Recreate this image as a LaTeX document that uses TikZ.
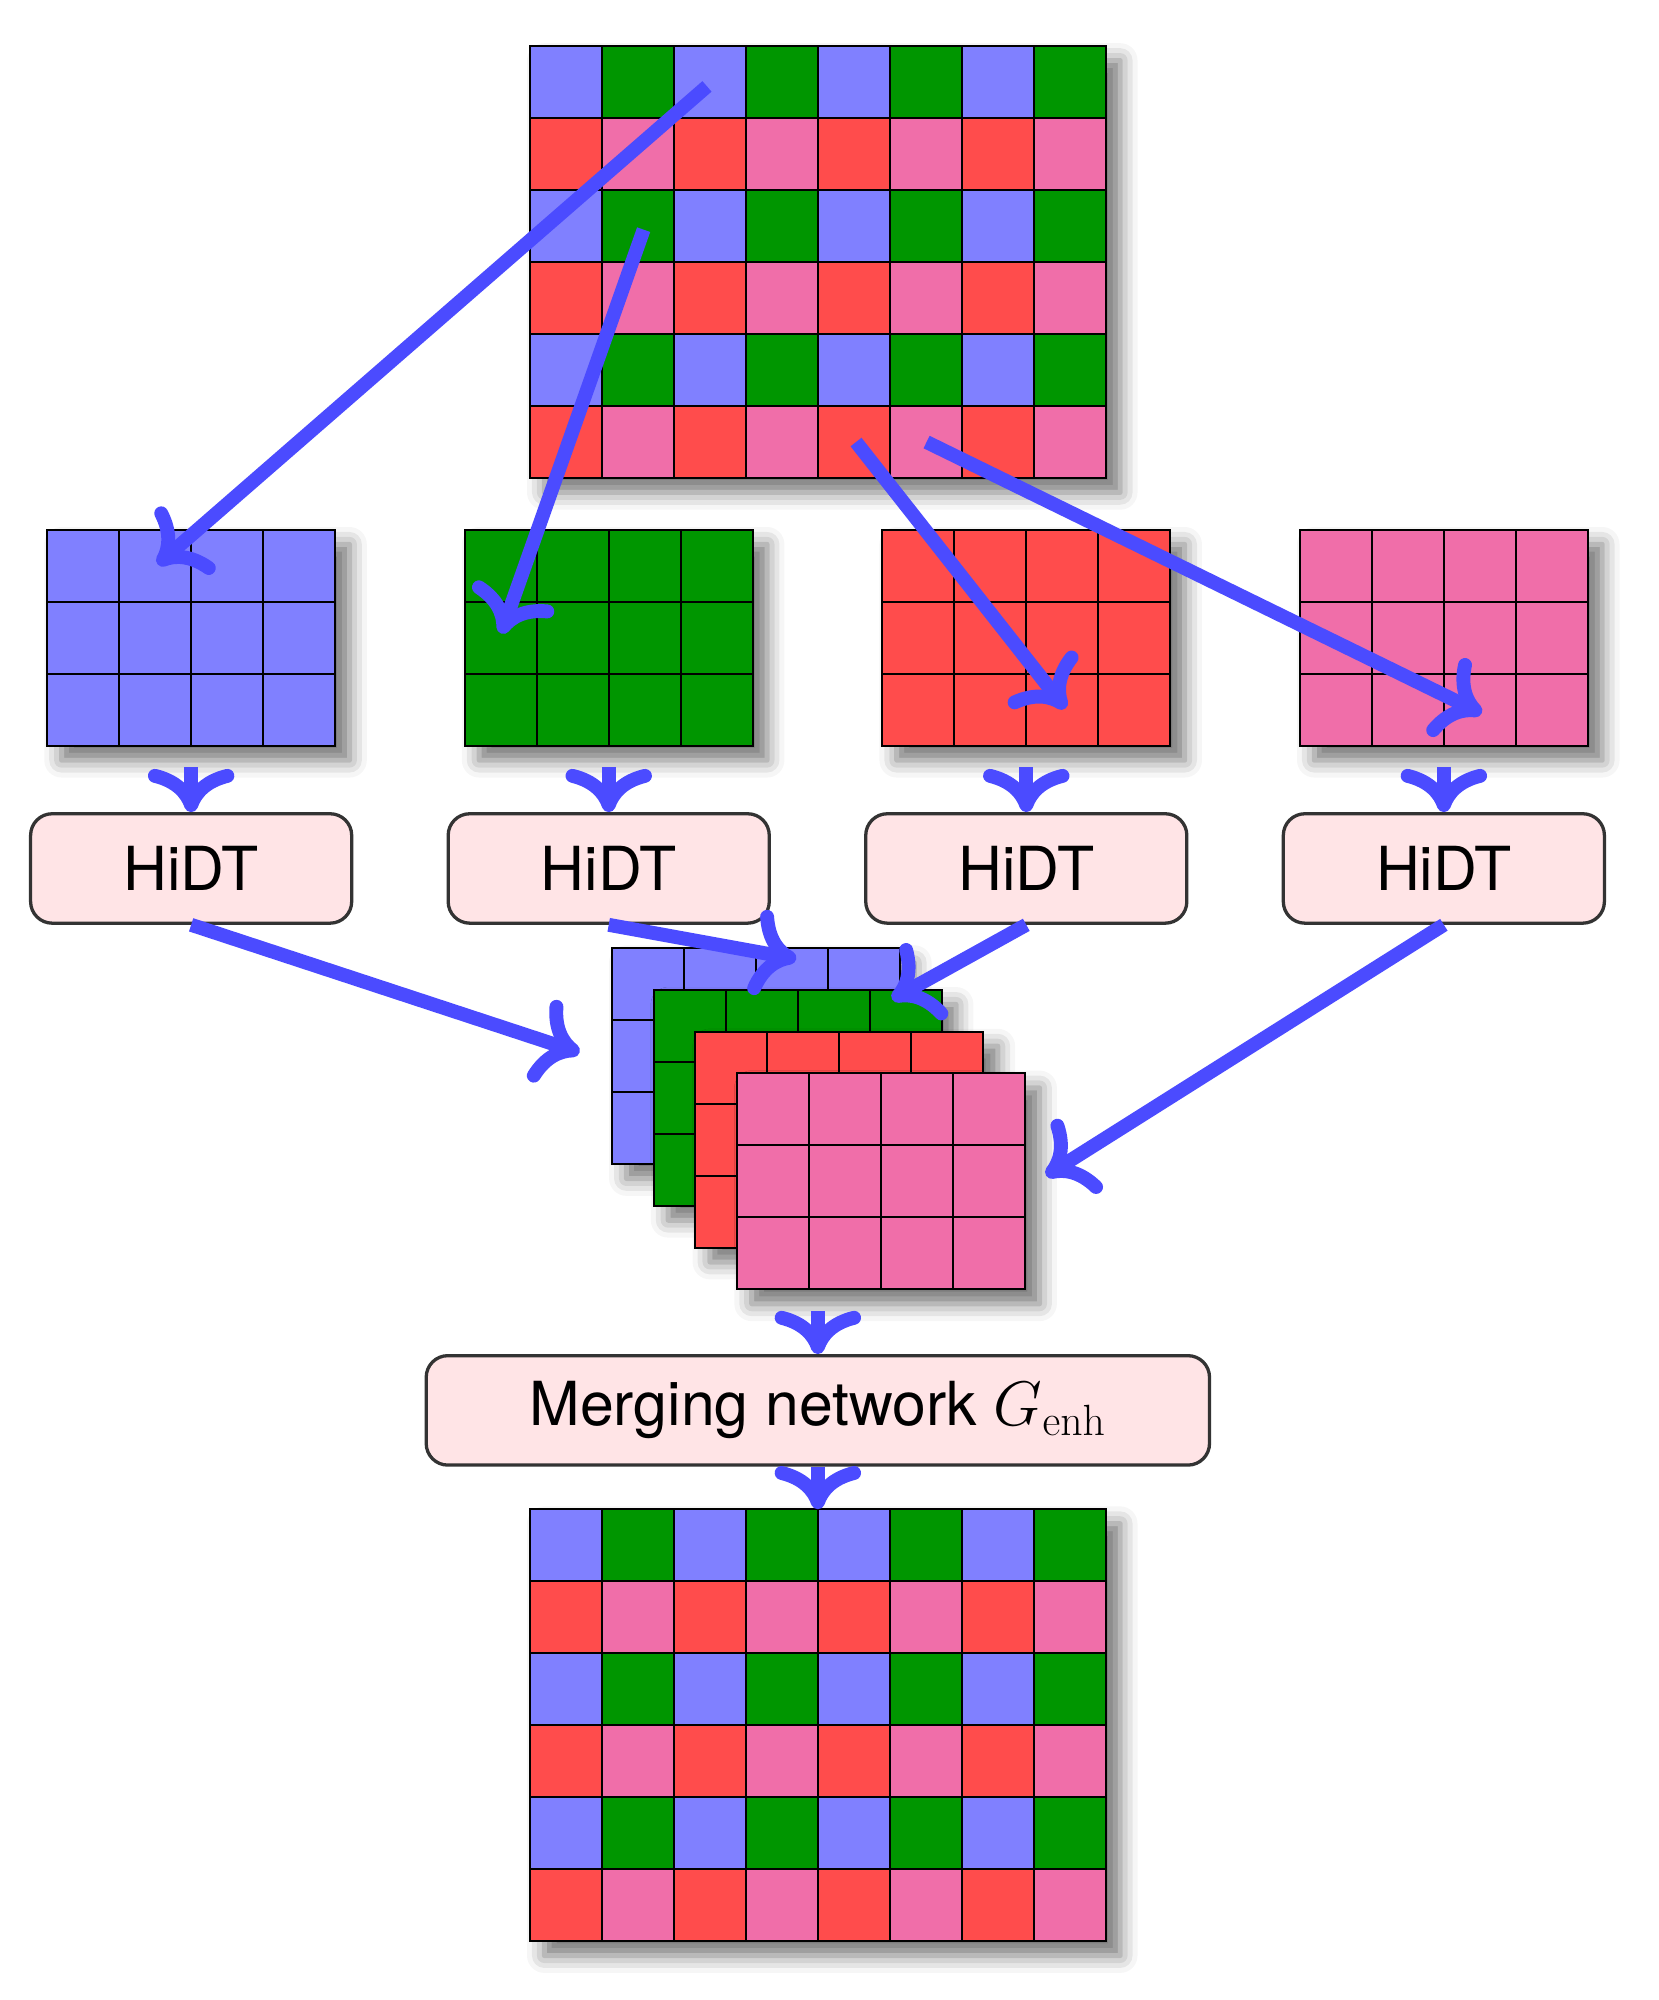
\documentclass[tikz,border=0pt]{standalone}
\usepackage[no-math]{fontspec}
\usepackage{tikz}
\usetikzlibrary{positioning,calc,arrows.meta,shadows.blur}

\newfontfamily\heros{TeX Gyre Heros}
\definecolor{cellblue}{HTML}{8080FF}
\definecolor{cellgreen}{HTML}{009600}
\definecolor{cellred}{HTML}{FF4C4C}
\definecolor{cellpink}{HTML}{F06EA9}
\definecolor{netfill}{HTML}{FFE4E6}
\definecolor{flowblue}{HTML}{4B4BFF}

\tikzset{
  plane/.style={draw=black, line width=0.8pt, fill=white, inner sep=0pt, outer sep=0pt,
    blur shadow={shadow xshift=0.2cm, shadow yshift=-0.2cm, shadow blur radius=0.24cm,
      shadow opacity=55}},
  cell/.style={draw=black, line width=0.8pt},
  net/.style={draw=black!80, line width=1.3pt, fill=netfill, rounded corners=0.3cm,
    minimum height=1.52cm, font=\heros\fontsize{24}{28}\selectfont},
  flow/.style={draw=flowblue, line width=5.5pt,
    -{Computer Modern Rightarrow[length=0.6cm, width=1.2cm, round]}},
}

% 8x6 mosaic of cells
\newcommand{\mosaic}[2]{%
  \node (#1) [plane, minimum width=8cm, minimum height=6cm, #2] {};
  \foreach \r in {1,...,6}
    \foreach \c in {1,...,8} {
      \ifodd\r\relax
        \ifodd\c\relax \def\cellcol{cellblue}\else \def\cellcol{cellgreen}\fi
      \else
        \ifodd\c\relax \def\cellcol{cellred}\else \def\cellcol{cellpink}\fi
      \fi
      \draw[cell, fill=\cellcol] ($(#1.north west)+(\c-1,1-\r)$) rectangle +(1,-1);
    }
}
% 4x3 plane of one colour
\newcommand{\colplane}[3]{%
  \node (#1) [plane, fill=#3, minimum width=4cm, minimum height=3cm, #2] {};
  \draw[cell, shift={(#1.north west)}] (0,0) grid (4,-3);
}

\begin{document}
\begin{tikzpicture}
\useasboundingbox (0,0) rectangle (23.03,-27.78);

% input mosaic and its four colour planes
\mosaic{raw}{anchor=north west, at={(7.36,-0.64)}}
\colplane{pb}{anchor=north west, at={(0.655,-7.36)}}{cellblue}
\colplane{pg}{right=1.8cm of pb}{cellgreen}
\colplane{pr}{right=1.8cm of pg}{cellred}
\colplane{pp}{right=1.8cm of pr}{cellpink}

\node (hb) [net, minimum width=4.46cm, below=0.92cm of pb] {HiDT};
\node (hg) [net, minimum width=4.46cm, below=0.92cm of pg] {HiDT};
\node (hr) [net, minimum width=4.46cm, below=0.92cm of pr] {HiDT};
\node (hp) [net, minimum width=4.46cm, below=0.92cm of pp] {HiDT};

% stacked outputs
\colplane{kb}{anchor=north west, at={(8.50,-13.17)}}{cellblue}
\colplane{kg}{below right=0.58cm and 0.58cm of kb.north west}{cellgreen}
\colplane{kr}{below right=0.58cm and 0.58cm of kg.north west}{cellred}
\colplane{kp}{below right=0.58cm and 0.58cm of kr.north west}{cellpink}

\node (mg) [net, minimum width=10.88cm] at (11.36,-19.59) {Merging network $G_{\mathrm{enh}}$};
\mosaic{out}{below=0.59cm of mg}

% free ends of the connectors
\coordinate (ob) at (9.82,-1.20);
\coordinate (og) at (8.94,-3.19);
\coordinate (or) at (11.89,-6.14);
\coordinate (op) at (12.87,-6.14);
\coordinate (tb) at (2.19,-7.84);
\coordinate (tg) at (6.96,-8.80);
\coordinate (tr) at (14.80,-9.84);
\coordinate (tp) at (20.58,-9.91);
\coordinate (ib) at (8.05,-14.62);
\coordinate (ig) at (11.06,-13.32);
\coordinate (ir) at (12.39,-13.88);
\coordinate (ip) at (14.53,-16.33);

\draw[flow] (ob) -- (tb);
\draw[flow] (og) -- (tg);
\draw[flow] (or) -- (tr);
\draw[flow] (op) -- (tp);
\draw[flow] (hb.south) -- (ib);
\draw[flow] (hg.south) -- (ig);
\draw[flow] (hr.south) -- (ir);
\draw[flow] (hp.south) -- (ip);
\draw[flow, shorten <=0.3cm] (pb.south) -- (hb.north);
\draw[flow, shorten <=0.3cm] (pg.south) -- (hg.north);
\draw[flow, shorten <=0.3cm] (pr.south) -- (hr.north);
\draw[flow, shorten <=0.3cm] (pp.south) -- (hp.north);
\draw[flow, shorten <=0.3cm] (kp.south -| mg.north) -- (mg.north);
\draw[flow] (mg.south) -- (out.north);
\end{tikzpicture}
\end{document}
